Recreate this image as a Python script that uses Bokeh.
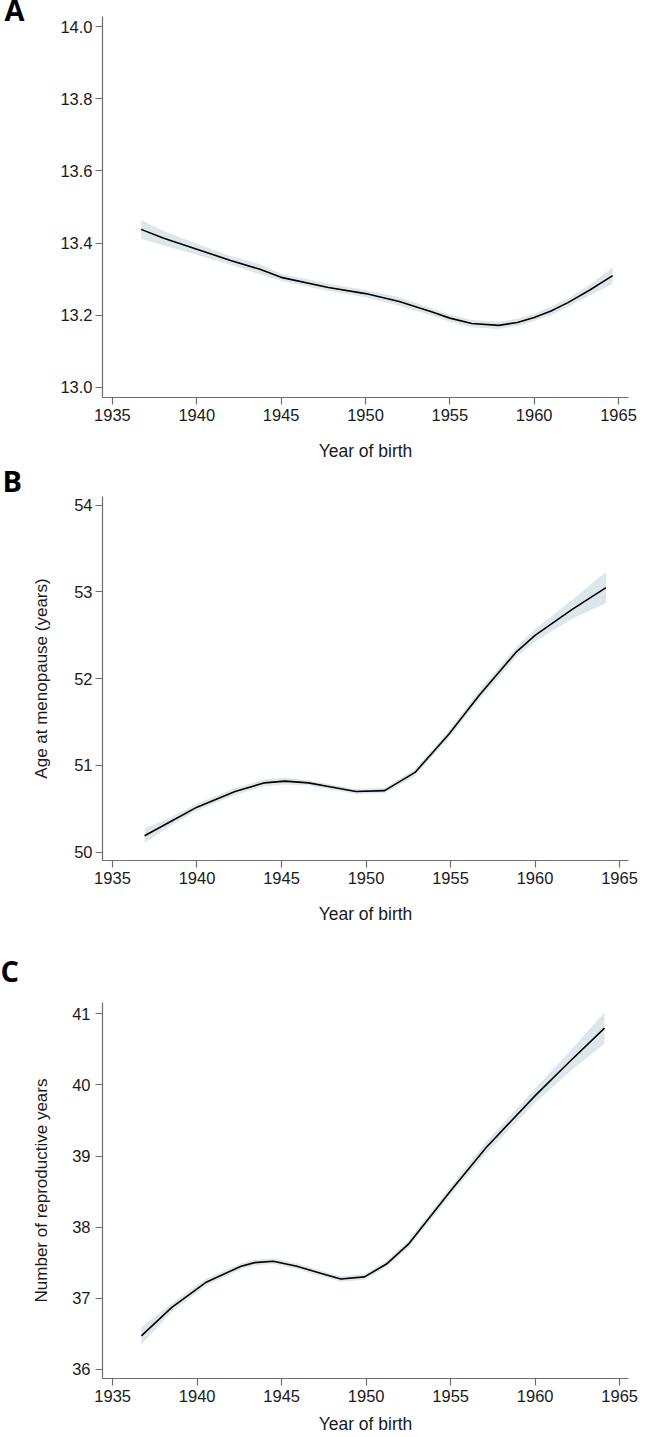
from bokeh.plotting import figure
from bokeh.layouts import column
from bokeh.models import FixedTicker, PrintfTickFormatter, Range1d, Title
from bokeh.embed import file_html
from bokeh.resources import INLINE

# ---------------- data ----------------
years_a = [1936.7, 1938.0, 1940.0, 1942.0, 1943.7, 1945.0, 1947.8, 1950.0, 1952.0, 1954.0,
           1955.0, 1956.3, 1957.9, 1959.0, 1960.0, 1961.0, 1962.0, 1963.3, 1964.65]
menarche = [13.438, 13.414, 13.383, 13.352, 13.328, 13.305, 13.277, 13.260, 13.238, 13.208,
            13.192, 13.177, 13.172, 13.180, 13.194, 13.212, 13.235, 13.270, 13.310]
menarche_ci = [0.026, 0.020, 0.015, 0.012, 0.014, 0.010, 0.010, 0.010, 0.012, 0.010,
               0.010, 0.010, 0.010, 0.010, 0.010, 0.012, 0.012, 0.015, 0.023]

years_b = [1936.9, 1938.5, 1940.0, 1942.25, 1944.0, 1945.2, 1946.6, 1947.7, 1949.4, 1951.1,
           1952.9, 1954.9, 1956.7, 1958.9, 1960.0, 1962.2, 1964.2]
menopause = [50.19, 50.36, 50.52, 50.70, 50.80, 50.82, 50.80, 50.76, 50.70, 50.71,
             50.92, 51.36, 51.81, 52.31, 52.50, 52.80, 53.05]
menopause_ci = [0.08, 0.05, 0.04, 0.04, 0.04, 0.04, 0.03, 0.03, 0.03, 0.03,
                0.04, 0.04, 0.05, 0.06, 0.07, 0.11, 0.18]

years_c = [1936.7, 1938.5, 1940.5, 1942.6, 1943.4, 1944.5, 1945.9, 1947.3, 1948.5, 1949.9,
           1951.2, 1952.5, 1955.0, 1957.1, 1960.0, 1962.0, 1964.1]
repro = [36.47, 36.87, 37.22, 37.45, 37.50, 37.52, 37.45, 37.35, 37.27, 37.30,
         37.48, 37.76, 38.51, 39.12, 39.85, 40.32, 40.80]
repro_ci = [0.12, 0.06, 0.05, 0.04, 0.04, 0.04, 0.04, 0.04, 0.04, 0.04,
            0.04, 0.05, 0.06, 0.08, 0.10, 0.14, 0.22]

x_ticks = [1935, 1940, 1945, 1950, 1955, 1960, 1965]
y_ticks_a = [13.0, 13.2, 13.4, 13.6, 13.8, 14.0]
y_ticks_b = [50, 51, 52, 53, 54]
y_ticks_c = [36, 37, 38, 39, 40, 41]
x_title = "Year of birth"

FONT = "Liberation Sans"
AXIS_COLOR = "#6e6e6e"
BAND = "#dde6ea"
W = 650


def panel(letter, xs, ys, ci, yticks, yfmt, xr, yr, ylabel, height,
          top, bottom, left, right, ylab_standoff, ytick_standoff,
          xlab_standoff, letter_standoff):
    p = figure(width=W, height=height, output_backend="svg", toolbar_location=None,
               x_range=Range1d(*xr), y_range=Range1d(*yr),
               min_border_top=top, min_border_bottom=bottom,
               min_border_left=left, min_border_right=right)
    p.outline_line_color = None
    p.background_fill_color = "white"
    p.border_fill_color = "white"
    p.grid.visible = False

    lo = [v - c for v, c in zip(ys, ci)]
    hi = [v + c for v, c in zip(ys, ci)]
    p.varea(x=xs, y1=lo, y2=hi, fill_color=BAND, fill_alpha=1.0)
    p.line(xs, ys, line_color="black", line_width=1.6)

    for ax in (p.xaxis[0], p.yaxis[0]):
        ax.axis_line_color = AXIS_COLOR
        ax.axis_line_width = 1.2
        ax.major_tick_line_color = AXIS_COLOR
        ax.major_tick_line_width = 1.2
        ax.major_tick_out = 7
        ax.major_tick_in = 0
        ax.minor_tick_line_color = None
        ax.major_label_text_font = FONT
        ax.major_label_text_font_size = "16.5px"
        ax.major_label_text_color = "#1a1a1a"
        ax.axis_label_text_font = FONT
        ax.axis_label_text_font_style = "normal"
        ax.axis_label_text_color = "#1a1a1a"

    p.xaxis.ticker = FixedTicker(ticks=x_ticks)
    p.xaxis.major_label_standoff = 4
    p.xaxis.axis_label = x_title
    p.xaxis.axis_label_standoff = xlab_standoff
    p.xaxis.axis_label_text_font_size = "17.5px"

    p.yaxis.ticker = FixedTicker(ticks=yticks)
    p.yaxis.formatter = PrintfTickFormatter(format=yfmt)
    p.yaxis.major_label_standoff = ytick_standoff
    if ylabel:
        p.yaxis.axis_label = ylabel
        p.yaxis.axis_label_standoff = ylab_standoff
        p.yaxis.axis_label_text_font_size = "17px"

    p.add_layout(Title(text=letter, align="left", offset=-left, vertical_align="middle",
                       standoff=letter_standoff, text_font="Open Sans",
                       text_font_style="bold", text_font_size="29px",
                       text_color="black"), "above")
    return p


fa = panel("A", years_a, menarche, menarche_ci, y_ticks_a, "%.1f",
           (1934.41, 1965.59), (12.972, 14.028), None, 463,
           16, 66, 98, 22, 20, 3, 17, -27)
fb = panel("B", years_b, menopause, menopause_ci, y_ticks_b, "%d",
           (1934.41, 1965.53), (49.905, 54.10), "Age at menopause (years)", 474,
           30, 77, 100, 22, 20, 3, 17, -8)
fc = panel("C", years_c, repro, repro_ci, y_ticks_c, "%d",
           (1934.40, 1965.52), (35.87, 41.16), "Number of reproductive years", 500,
           65, 59, 102, 10, 18, 5, 9, 23)

layout = column(fa, fb, fc)
open("out.html", "w").write(file_html(layout, INLINE))
